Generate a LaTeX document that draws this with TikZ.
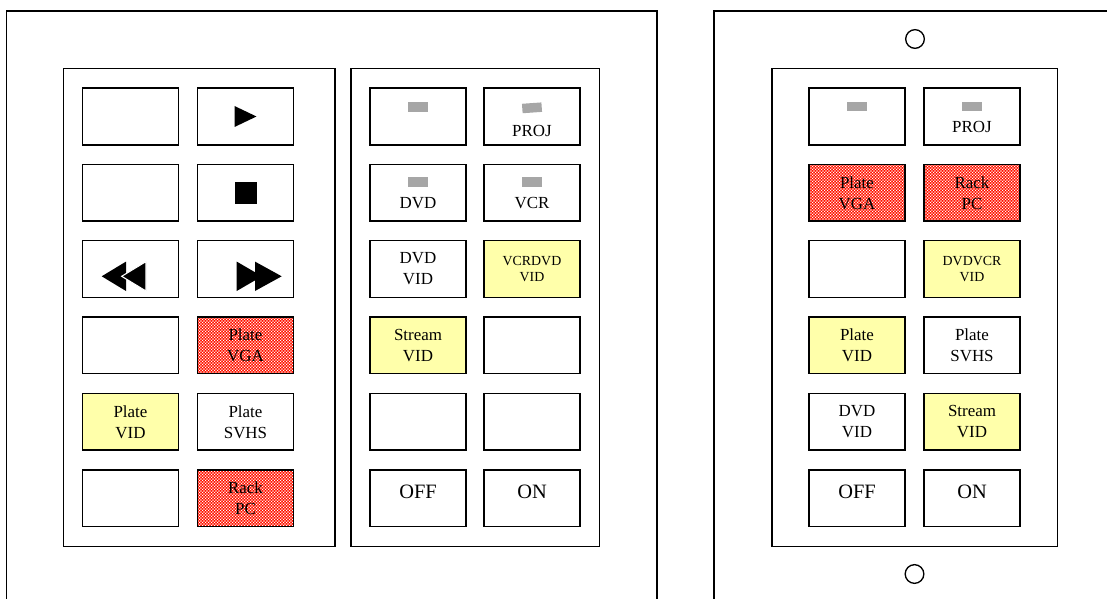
\documentclass[tikz,border=0pt]{standalone}
\usepackage{fontspec}
\setmainfont{Liberation Serif}
\usetikzlibrary{patterns,positioning}
\definecolor{vidyellow}{RGB}{255,255,170}
\definecolor{pcred}{RGB}{255,20,0}
\definecolor{lampgray}{RGB}{166,166,166}
\pgfdeclarepatternformonly{finechecks}{\pgfpointorigin}{\pgfqpoint{2.2pt}{2.2pt}}{\pgfqpoint{2.2pt}{2.2pt}}{%
  \pgfpathrectangle{\pgfpointorigin}{\pgfqpoint{0.9pt}{0.9pt}}%
  \pgfpathrectangle{\pgfqpoint{1.1pt}{1.1pt}}{\pgfqpoint{0.9pt}{0.9pt}}%
  \pgfusepath{fill}}

\begin{document}
\begin{tikzpicture}[x=0.75pt,y=-0.75pt,
  btn/.style={draw,line width=1.1pt,minimum width=71.7pt,minimum height=42.5pt,inner sep=0pt,align=center,font=\fontsize{12.7}{15.7}\selectfont},
  vid/.style={btn,fill=vidyellow},
  pc/.style={btn,preaction={fill=pcred},pattern=finechecks,pattern color=white},
  small/.style={font=\fontsize{10.4}{12.5}\selectfont},
  lamp/.style={fill=lampgray,minimum width=14.6pt,minimum height=7.1pt,inner sep=0pt},
  btntext/.style={anchor=base,inner sep=0pt,font=\fontsize{12.7}{15.7}\selectfont},
  big/.style={font=\fontsize{15.3}{18}\selectfont},
  hole/.style={draw,circle,line width=1pt,minimum size=14pt,inner sep=0pt},
  panel/.style={draw,line width=1pt},
  plate/.style={draw,line width=1.3pt}]
\useasboundingbox (0,0) rectangle (1107,599);
\draw[plate] (6.5,11) rectangle (657,620);
\draw[plate] (714,11) rectangle (1120,620);
\draw[panel] (63.5,68.3) rectangle (335,546.7);
\draw[panel] (351,68.3) rectangle (599.3,546.7);
\draw[panel] (772,68.3) rectangle (1057.7,546.7);
\node[hole] (holeT) at (915,39) {};
\node[hole] (holeB) at (914.5,574) {};

\node[btn] (L11) at (130.5,116.5) {};
\node[btn] (L12) at (245.5,116.5) {};
\node[btn] (L21) at (130.5,192.8) {};
\node[btn] (L22) at (245.5,192.8) {};
\node[btn] (L31) at (130.5,269) {};
\node[btn] (L32) at (245.5,269) {};
\node[btn] (L41) at (130.5,345.2) {};
\node[pc] (L42) at (245.5,345.2) {Plate\\VGA};
\node[vid] (L51) at (130.5,421.8) {Plate\\VID};
\node[btn] (L52) at (245.5,421.8) {Plate\\SVHS};
\node[btn] (L61) at (130.5,498.3) {};
\node[pc] (L62) at (245.5,498.3) {Rack\\PC};
\fill[shift={(L12)}] (-11,-10.5) -- (11,0) -- (-11,10.5) -- cycle;
\fill[shift={(L22)}] (-11,-11) rectangle (11,11);
\fill[shift={(L31)}] (-28.8,7.3) -- (-4.5,-7.4) -- (-4.5,22) -- cycle;
\filldraw[shift={(L31)},draw=white,line width=0.8pt] (-8.8,7.3) -- (15.5,-7.4) -- (15.5,22) -- cycle;
\fill[shift={(L32)}] (-8.8,-7.4) -- (16.5,7.3) -- (-8.8,22) -- cycle;
\fill[shift={(L32)}] (9.5,-7.4) -- (36.2,7.3) -- (9.5,22) -- cycle;

\node[btn] (M11) at (418,116.5) {};
\node[btn] (M12) at (532,116.5) {};
\node[btn] (M21) at (418,192.8) {};
\node[btn] (M22) at (532,192.8) {};
\node[btn] (M31) at (418,269) {DVD\\VID};
\node[vid,small] (M32) at (532,269) {VCRDVD\\VID};
\node[vid] (M41) at (418,345.2) {Stream\\VID};
\node[btn] (M42) at (532,345.2) {};
\node[btn] (M51) at (418,421.8) {};
\node[btn] (M52) at (532,421.8) {};
\node[btn] (M61) at (418,498.3) {};
\node[btn] (M62) at (532,498.3) {};
\node[lamp] (M11l) at ([yshift=7pt]M11.center) {};
\node[lamp,rotate=4] (M12l) at ([yshift=6.5pt]M12.center) {};
\node[lamp] (M21l) at ([yshift=8pt]M21.center) {};
\node[lamp] (M22l) at ([yshift=8pt]M22.center) {};
\node[btntext] (M12t) at ([yshift=-15pt]M12.center) {PROJ};
\node[btntext] (M21t) at ([yshift=-11.6pt]M21.center) {DVD};
\node[btntext] (M22t) at ([yshift=-11.6pt]M22.center) {VCR};
\node[btntext,big] (M61t) at (M61.center) {OFF};
\node[btntext,big] (M62t) at (M62.center) {ON};

\node[btn] (R11) at (857,116.5) {};
\node[btn] (R12) at (972,116.5) {};
\node[pc] (R21) at (857,192.8) {Plate\\VGA};
\node[pc] (R22) at (972,192.8) {Rack\\PC};
\node[btn] (R31) at (857,269) {};
\node[vid,small] (R32) at (972,269) {DVDVCR\\VID};
\node[vid] (R41) at (857,345.2) {Plate\\VID};
\node[btn] (R42) at (972,345.2) {Plate\\SVHS};
\node[btn] (R51) at (857,421.8) {DVD\\VID};
\node[vid] (R52) at (972,421.8) {Stream\\VID};
\node[btn] (R61) at (857,498.3) {};
\node[btn] (R62) at (972,498.3) {};
\node[lamp] (R11l) at ([yshift=7.5pt]R11.center) {};
\node[lamp] (R12l) at ([yshift=7.5pt]R12.center) {};
\node[btntext] (R12t) at ([yshift=-11.8pt]R12.center) {PROJ};
\node[btntext,big] (R61t) at (R61.center) {OFF};
\node[btntext,big] (R62t) at (R62.center) {ON};
\end{tikzpicture}
\end{document}
